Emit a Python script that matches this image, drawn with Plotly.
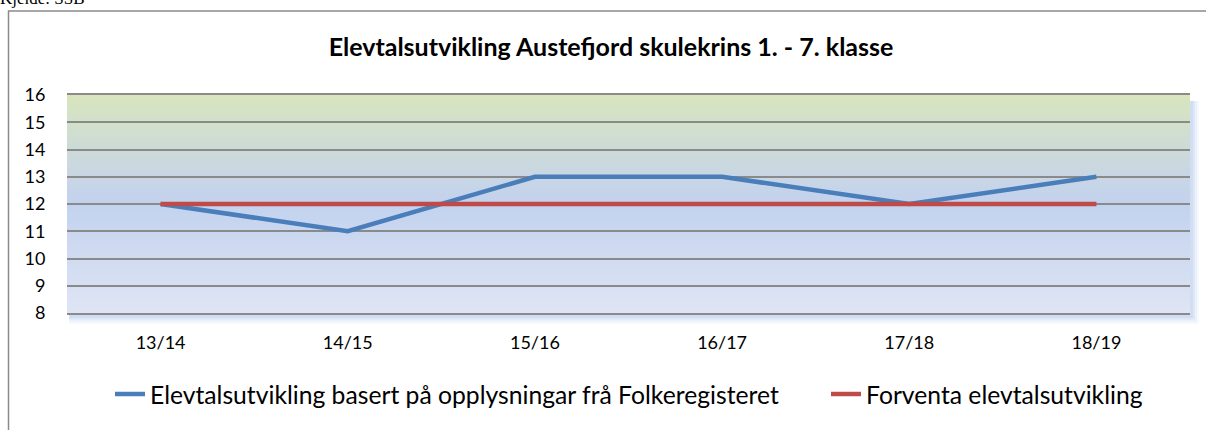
import plotly.graph_objects as go

categories = ["13/14", "14/15", "15/16", "16/17", "17/18", "18/19"]
folkeregister = [12, 11, 13, 13, 12, 13]
forventa = [12, 12, 12, 12, 12, 12]
series_names = ["Elevtalsutvikling basert på opplysningar frå Folkeregisteret",
                "Forventa elevtalsutvikling"]
title_text = "Elevtalsutvikling Austefjord skulekrins 1. - 7. klasse"
source_text = "Kjelde: SSB"

W, H = 1206, 430
L, R, T, B = 67, 1190, 95, 317
FONT = "Lato, 'Open Sans', sans-serif"


def px(x):
    return (x - L) / (R - L)


def py(y):
    return (B - y) / (B - T)


fig = go.Figure()
fig.add_trace(go.Scatter(x=categories, y=folkeregister, mode="lines", name=series_names[0],
                         line=dict(color="#4a7ebb", width=4.5), legend="legend"))
fig.add_trace(go.Scatter(x=categories, y=forventa, mode="lines", name=series_names[1],
                         line=dict(color="#be4b48", width=4.5), legend="legend2"))

# gradient background (stripes)
stops = [(8.0, (223, 229, 244)), (12.0, (194, 210, 238)), (13.0, (200, 214, 228)),
         (14.5, (207, 221, 210)), (16.0, (216, 229, 188))]


def col(v):
    for (a, ca), (b, cb) in zip(stops[:-1], stops[1:]):
        if a <= v <= b:
            t = (v - a) / (b - a)
            c = [round(ca[i] + (cb[i] - ca[i]) * t) for i in range(3)]
            return "rgb(%d,%d,%d)" % tuple(c)
    return "rgb(%d,%d,%d)" % stops[-1][1]


shapes = []
# shadow
for i, (off, op) in enumerate([(9, 0.06), (7, 0.08), (5, 0.1), (3, 0.12)]):
    shapes.append(dict(type="rect", xref="paper", yref="paper", layer="below",
                       x0=px(L + 2), x1=px(R + off), y0=py(B + off + 2), y1=py(T + 6),
                       fillcolor="rgb(110,150,220)", opacity=op, line=dict(width=0)))
n = 111
step = 8.0 / n
for i in range(n):
    y0 = 8 + i * step
    shapes.append(dict(type="rect", xref="paper", yref="y", layer="below",
                       x0=0, x1=1, y0=y0, y1=min(16, y0 + step * 1.3),
                       fillcolor=col(y0 + step / 2), line=dict(width=0)))
# outer frame
shapes.append(dict(type="rect", xref="paper", yref="paper", layer="above",
                   x0=px(8.5), x1=px(W + 20), y0=py(W + 20), y1=py(9.5),
                   line=dict(color="#8a8a8a", width=1.5), fillcolor="rgba(0,0,0,0)"))

legend_common = dict(orientation="h", xanchor="left", y=py(400), yanchor="middle",
                     font=dict(size=24.7, family=FONT), bgcolor="rgba(0,0,0,0)")

fig.update_layout(
    width=W, height=H,
    margin=dict(l=L, r=W - R, t=T, b=H - B),
    paper_bgcolor="white", plot_bgcolor="rgba(0,0,0,0)",
    shapes=shapes,
    font=dict(family=FONT, color="#000000"),
    title=dict(text="<b>" + title_text + "</b>", x=611 / W, xanchor="center",
               y=1 - 47 / H, yanchor="middle", font=dict(size=25, family=FONT)),
    showlegend=True,
    legend=dict(x=px(110), **legend_common),
    legend2=dict(x=px(826), **legend_common),
    annotations=[dict(text=source_text, xref="paper", yref="paper", x=px(-2), y=py(-3.5),
                      xanchor="left", yanchor="middle", showarrow=False,
                      font=dict(family="Liberation Serif, serif", size=17, color="#000"))],
)
fig.update_xaxes(type="category", range=[-0.5, 5.5], showgrid=False, showline=True, mirror=True,
                 linecolor="#8a8a8a", linewidth=2, ticks="outside", ticklen=12,
                 tickcolor="rgba(0,0,0,0)", tickfont=dict(size=18, family=FONT), fixedrange=True)
fig.update_yaxes(range=[8, 16], dtick=1, showgrid=True, gridcolor="#8a8a8a", gridwidth=2,
                 zeroline=False, showline=False, ticks="outside", ticklen=17,
                 tickcolor="rgba(0,0,0,0)", tickfont=dict(size=18, family=FONT), fixedrange=True)

fig.write_html("out.html", config={"displayModeBar": False},
               post_script="document.body.style.margin='0px';")
